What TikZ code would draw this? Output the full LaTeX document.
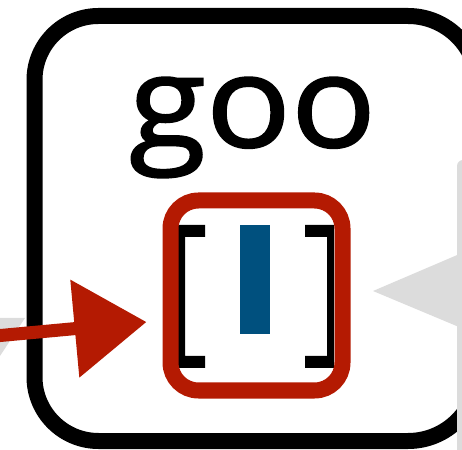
\documentclass[tikz,border=0pt]{standalone}
\usepackage{fontspec}
\usepackage{tikz}
\usetikzlibrary{arrows.meta,positioning,calc}
\newfontfamily\wordfont{Open Sans}[FakeBold=1.5]
\definecolor{gkred}{HTML}{B41A02}
\definecolor{gkblue}{HTML}{00507E}
\definecolor{gkgrey}{HTML}{DCDCDC}
\begin{document}
\begin{tikzpicture}[x=1pt,y=1pt,
  bracket/.style={fill=black}]
\useasboundingbox (0,0) rectangle (462,449);
\fill[gkgrey] (0,131) -- (25,131) -- (0,93) -- cycle;
\draw[line width=16pt] (98.5,433) -- (408,433) arc[start angle=90,end angle=0,radius=70]
  -- (478,78) arc[start angle=0,end angle=-90,radius=70]
  -- (98.5,8) arc[start angle=270,end angle=180,radius=64]
  -- (34.5,369) arc[start angle=180,end angle=90,radius=64] -- cycle;
\fill[gkgrey,rounded corners=6pt] (457,-20) rectangle (490,289);
\fill[gkgrey] (373,158) -- (490,208) -- (490,109) -- cycle;
\node[font=\wordfont\fontsize{128}{128}\selectfont,anchor=base,inner sep=0pt,xscale=1.1] (word) at (252.5,302) {goo};
\fill[bracket] (205,224) -- (178,224) -- (178,81) -- (205,81) -- (205,93) -- (185,93) -- (185,212) -- (205,212) -- cycle;
\fill[bracket] (305,224) -- (334,224) -- (334,81) -- (305,81) -- (305,93) -- (327,93) -- (327,212) -- (305,212) -- cycle;
\node[fill=gkblue,minimum width=30pt,minimum height=109pt,inner sep=0pt] (cursor) at (255,169.5) {};
\node[draw=gkred,line width=16pt,rounded corners=28pt,minimum width=172pt,minimum height=190pt] (slot) at (256.5,153.5) {};
\coordinate (tail) at (-5,113);
\draw[gkred,line width=13pt,-{Triangle[length=72pt,width=95pt]}] (tail) -- ($(slot.west)+(-16,-26.5)$);
\end{tikzpicture}
\end{document}
